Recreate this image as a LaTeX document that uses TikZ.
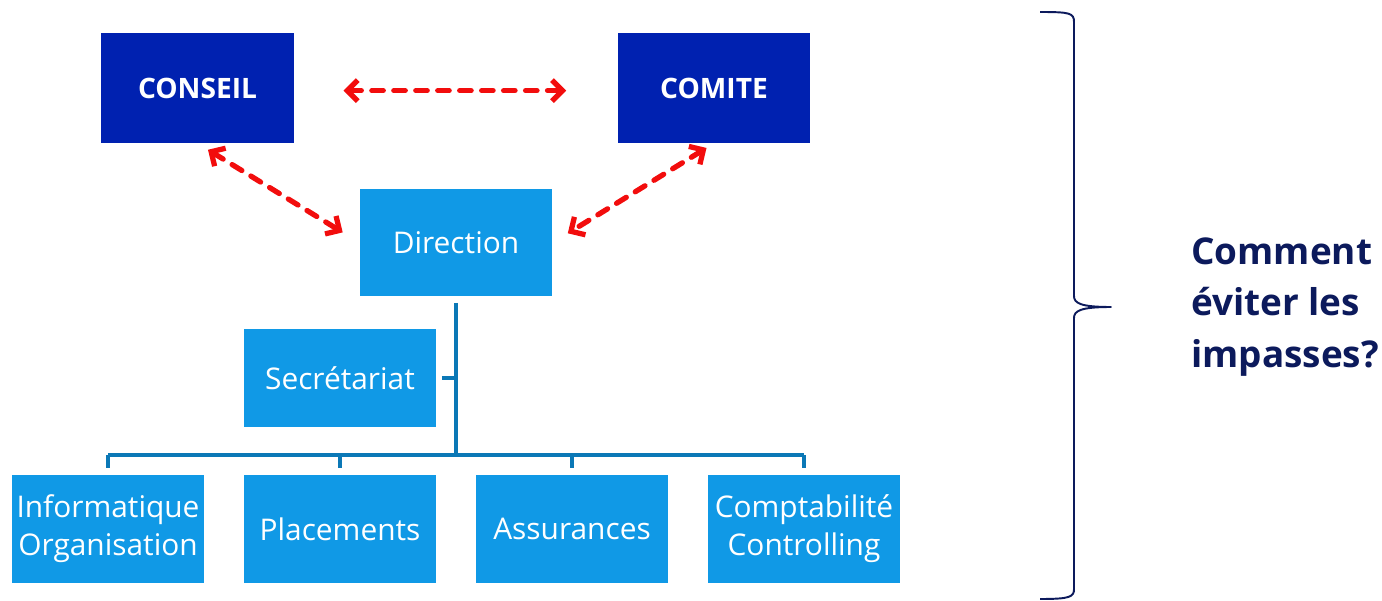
\documentclass[tikz,border=0pt]{standalone}
\usepackage{fontspec}
\setmainfont{Open Sans}
\usepackage{tikz}
\usetikzlibrary{arrows.meta,positioning,calc}
\usepackage{xcolor}
\definecolor{boardblue}{HTML}{0021B0}
\definecolor{unitblue}{HTML}{1099E6}
\definecolor{treeblue}{HTML}{0B78B6}
\definecolor{navy}{HTML}{0C1A5C}
\definecolor{linkred}{HTML}{F20D0D}

\begin{document}
\begin{tikzpicture}[
    x=0.02cm, y=-0.02cm,
    board/.style={rectangle, fill=boardblue, text=white, minimum width=3.86cm, minimum height=2.2cm, inner sep=1pt, font=\fontsize{16}{19}\selectfont\bfseries},
    unit/.style={rectangle, fill=unitblue, text=white, minimum width=3.86cm, minimum height=2.16cm, inner sep=1pt, align=center, font=\fontsize{17}{21.5}\selectfont},
    link/.style={{Straight Barb[length=6pt,width=12pt]}-{Straight Barb[length=6pt,width=12pt]}, linkred, line width=3pt, line cap=round, dash pattern=on 6.5pt off 6pt},
    tree/.style={treeblue, line width=2.3pt},
    >=Stealth
]
    \useasboundingbox (0,0) rectangle (1382,601);

    % Board and committee
    \node[board] (conseil) at (197.5, 88) {CONSEIL};
    \node[board] (comite) at (714, 88) {COMITE};

    % Management
    \node[unit] (direction) at (456, 242.5) {Direction};
    \node[unit, minimum height=1.96cm] (secr) at (340, 378) {Secrétariat};

    % Departments
    \node[unit] (info) at (108, 529) {Informatique\\Organisation};
    \node[unit] (plac) at (340, 529) {Placements};
    \node[unit] (assu) at (572, 529) {Assurances};
    \node[unit] (compta) at (804, 529) {Comptabilité\\Controlling};

    % Links
    \draw[link, shorten <=28pt, shorten >=29pt] ([yshift=-1.5pt]conseil.east) -- ([yshift=-1.5pt]comite.west);
    \draw[link, shorten <=7pt, shorten >=11pt] (conseil.south) -- (direction.west);
    \draw[link, shorten <=5pt, shorten >=10pt] (comite.south) -- (direction.east);

    % Tree
    \coordinate (bus) at (456, 455);
    \draw[tree] (direction.south) ++(0,6) -- (bus);
    \draw[tree] (secr.east) ++(5,0) -- (secr.east -| bus);
    \draw[tree] (info.north |- bus) -- (compta.north |- bus);
    \foreach \n in {info,plac,assu,compta}
        \draw[tree] (\n.north) ++(0,-7) -- (\n.north |- bus);

    % Brace
    \coordinate (btop) at (1040, 12);
    \coordinate (btip) at (1111, 307);
    \coordinate (bbot) at (1040, 599);
    \draw[navy, line width=1.1pt, line join=round]
        (btop) .. controls (1070,12) and (1074,13) .. (1074,22)
        -- (1074,296) .. controls (1074,303) and (1080,307) .. (btip)
        .. controls (1080,307) and (1074,311) .. (1074,318)
        -- (1074,589) .. controls (1074,597) and (1070,599) .. (bbot);
    \node[anchor=west, align=left, text=navy, font=\fontsize{21}{29.5}\selectfont\bfseries] (question) at (1185, 307) {Comment\\éviter les\\impasses?};
\end{tikzpicture}
\end{document}
